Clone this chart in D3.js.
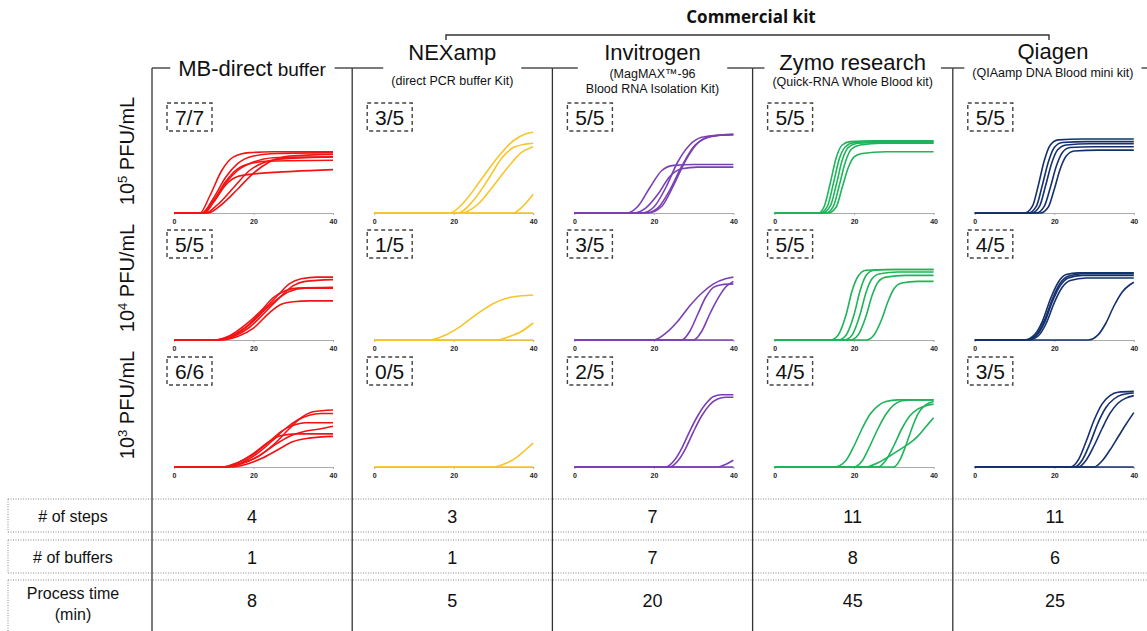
<!DOCTYPE html>
<html>
<head>
<meta charset="utf-8">
<script src="https://cdn.jsdelivr.net/npm/d3@7"></script>
<style>
  html, body { margin: 0; padding: 0; background: #fff; }
  svg { display: block; }
  text { font-family: "Liberation Sans", Arial, sans-serif; fill: #111; }
</style>
</head>
<body>
<svg id="chart" width="1147" height="631"></svg>
<script>
// ---------------- data ----------------
const kits = ["MB-direct buffer", "NEXamp", "Invitrogen", "Zymo research", "Qiagen"];
const subtitles = [[], ["(direct PCR buffer Kit)"], ["(MagMAX™-96", "Blood RNA Isolation Kit)"], ["(Quick-RNA Whole Blood kit)"], ["(QIAamp DNA Blood mini kit)"]];
const kitColors = ["#f21414", "#f7c52b", "#7b3fb5", "#1db45a", "#15306e"];
const concentrationExp = ["5", "4", "3"];
const detection = [
  ["7/7", "3/5", "5/5", "5/5", "5/5"],
  ["5/5", "1/5", "3/5", "5/5", "4/5"],
  ["6/6", "0/5", "2/5", "4/5", "3/5"]
];
const xTicks = [0, 20, 40];
const tableLabels = [["# of steps"], ["# of buffers"], ["Process time", "(min)"]];
const steps = [4, 3, 7, 11, 11];
const buffers = [1, 1, 7, 8, 6];
const processTime = [8, 5, 20, 45, 25];

// amplification curves: [cycle, normalized fluorescence]
const mbCurves = [
  [
    [[0,0],[6.5,0],[9,0.2],[12,0.5],[15,0.66],[19,0.71],[25,0.72],[40,0.72]],
    [[0,0],[7,0],[10,0.18],[13,0.42],[16,0.58],[20,0.67],[26,0.7],[40,0.71]],
    [[0,0],[7,0],[10,0.15],[13,0.37],[16,0.52],[19,0.58],[24,0.61],[40,0.62]],
    [[0,0],[7.5,0],[10,0.13],[13,0.33],[16,0.43],[20,0.46],[30,0.49],[40,0.51]],
    [[0,0],[8,0],[11,0.1],[15,0.3],[19,0.5],[23,0.6],[28,0.64],[40,0.66]],
    [[0,0],[8.5,0],[12,0.1],[16,0.28],[20,0.47],[24,0.6],[29,0.67],[40,0.69]],
    [[0,0],[7.5,0],[10,0.14],[13,0.35],[16,0.5],[20,0.6],[25,0.65],[40,0.66]]
  ],
  [
    [[0,0],[10,0],[14,0.04],[18,0.15],[22,0.33],[26,0.52],[29,0.66],[32,0.72],[36,0.74],[40,0.74]],
    [[0,0],[11,0],[15,0.04],[19,0.15],[23,0.33],[27,0.52],[30,0.64],[33,0.69],[40,0.71]],
    [[0,0],[10,0],[14,0.05],[18,0.18],[22,0.35],[25,0.5],[28,0.58],[31,0.61],[40,0.62]],
    [[0,0],[11,0],[15,0.05],[19,0.18],[23,0.36],[26,0.48],[29,0.57],[33,0.61],[40,0.61]],
    [[0,0],[12,0],[16,0.04],[20,0.14],[24,0.32],[27,0.42],[30,0.45],[34,0.46],[40,0.46]]
  ],
  [
    [[0,0],[13,0],[17,0.04],[21,0.12],[25,0.26],[29,0.45],[32,0.58],[35,0.65],[40,0.67]],
    [[0,0],[13,0],[17,0.05],[21,0.16],[25,0.32],[28,0.45],[31,0.55],[34,0.61],[37,0.63],[40,0.63]],
    [[0,0],[12,0],[16,0.05],[20,0.15],[24,0.3],[27,0.42],[30,0.49],[33,0.52],[40,0.52]],
    [[0,0],[13,0],[17,0.04],[21,0.12],[25,0.25],[29,0.36],[33,0.42],[37,0.45],[40,0.48]],
    [[0,0],[12,0],[16,0.05],[20,0.16],[24,0.3],[27,0.37],[31,0.39],[40,0.39]],
    [[0,0],[14,0],[18,0.03],[22,0.1],[26,0.2],[30,0.3],[34,0.34],[40,0.36]]
  ]
];
const nexCurves = [
  [
    [[0,0],[19,0],[23,0.15],[27,0.4],[31,0.65],[35,0.85],[38,0.93],[40,0.95]],
    [[0,0],[21,0],[25,0.15],[29,0.42],[32,0.64],[35,0.77],[38,0.81],[40,0.82]],
    [[0,0],[22,0],[26,0.1],[30,0.32],[34,0.56],[37,0.71],[40,0.78]],
    [[0,0],[35,0],[37,0.06],[40,0.22]],
    [[0,0],[40,0]]
  ],
  [
    [[0,0],[14,0],[18,0.06],[22,0.17],[26,0.31],[30,0.43],[34,0.5],[37,0.52],[40,0.53]],
    [[0,0],[31,0],[34,0.04],[37,0.1],[40,0.2]],
    [[0,0],[40,0]]
  ],
  [
    [[0,0],[30,0],[33,0.04],[36,0.12],[38,0.2],[40,0.28]],
    [[0,0],[40,0]]
  ]
];
const invCurves = [
  [
    [[0,0],[13,0],[16,0.08],[19,0.3],[22,0.5],[25,0.56],[30,0.57],[40,0.57]],
    [[0,0],[15,0],[18,0.06],[21,0.22],[24,0.43],[27,0.52],[31,0.54],[40,0.54]],
    [[0,0],[17,0],[20,0.07],[23,0.3],[26,0.6],[29,0.8],[32,0.89],[35,0.91],[40,0.92]],
    [[0,0],[18,0],[21,0.06],[24,0.27],[27,0.55],[30,0.78],[33,0.88],[36,0.91],[40,0.92]],
    [[0,0],[18.5,0],[22,0.08],[25,0.33],[28,0.62],[31,0.82],[34,0.9],[40,0.93]]
  ],
  [
    [[0,0],[20,0],[23,0.08],[26,0.22],[29,0.4],[32,0.55],[35,0.66],[38,0.72],[40,0.74]],
    [[0,0],[27,0],[29,0.1],[31,0.3],[33,0.5],[35,0.62],[37,0.65],[40,0.66]],
    [[0,0],[30,0],[32,0.1],[34,0.3],[36,0.48],[38,0.62],[40,0.69]],
    [[0,0],[40,0]]
  ],
  [
    [[0,0],[23,0],[25,0.07],[27,0.22],[29,0.42],[31,0.6],[33,0.74],[35,0.83],[37,0.85],[40,0.85]],
    [[0,0],[24,0],[26,0.07],[28,0.22],[30,0.42],[32,0.6],[34,0.73],[36,0.8],[38,0.82],[40,0.82]],
    [[0,0],[36,0],[38,0.03],[40,0.08]],
    [[0,0],[40,0]]
  ]
];
const zymoCurves = [
  [
    [[0,0],[11,0],[12.5,0.08],[14,0.35],[15.5,0.65],[17,0.8],[19,0.84],[25,0.85],[40,0.85]],
    [[0,0],[11.5,0],[13.3,0.08],[14.8,0.35],[16.3,0.64],[17.8,0.78],[20,0.83],[26,0.84],[40,0.84]],
    [[0,0],[12,0],[14,0.08],[15.5,0.33],[17,0.62],[18.5,0.77],[21,0.82],[27,0.83],[40,0.83]],
    [[0,0],[13,0],[14.8,0.08],[16.3,0.33],[17.8,0.6],[19.3,0.75],[21.5,0.8],[27,0.82],[40,0.82]],
    [[0,0],[13.5,0],[15.5,0.07],[17,0.3],[18.5,0.53],[20,0.66],[22,0.7],[28,0.72],[40,0.72]]
  ],
  [
    [[0,0],[14,0],[16,0.06],[18,0.3],[19.5,0.58],[21,0.75],[23,0.82],[28,0.83],[40,0.83]],
    [[0,0],[16,0],[18,0.06],[20,0.3],[21.5,0.58],[23,0.76],[25,0.82],[30,0.83],[40,0.83]],
    [[0,0],[17.5,0],[19.5,0.06],[21.5,0.3],[23,0.56],[24.5,0.72],[26.5,0.78],[31,0.8],[40,0.8]],
    [[0,0],[19,0],[21,0.06],[23,0.28],[24.5,0.52],[26,0.68],[28,0.74],[33,0.76],[40,0.76]],
    [[0,0],[23,0],[25,0.06],[27,0.25],[28.5,0.45],[30,0.6],[32,0.67],[36,0.69],[40,0.69]]
  ],
  [
    [[0,0],[15,0],[18,0.08],[20,0.25],[22,0.45],[24,0.62],[26,0.72],[28,0.77],[31,0.79],[40,0.79]],
    [[0,0],[20,0],[22,0.07],[24,0.25],[26,0.45],[28,0.62],[30,0.73],[32,0.78],[35,0.79],[40,0.79]],
    [[0,0],[26,0],[28,0.08],[30,0.25],[32,0.45],[34,0.6],[36,0.68],[38,0.72],[40,0.74]],
    [[0,0],[30,0],[31.5,0.08],[33,0.25],[34.5,0.45],[36,0.62],[38,0.73],[40,0.77]],
    [[0,0],[23,0],[26,0.05],[29,0.13],[32,0.22],[34,0.28],[36,0.36],[38,0.47],[40,0.58]]
  ]
];
const qiaCurves = [
  [
    [[0,0],[12.5,0],[14.5,0.08],[16,0.33],[17.5,0.62],[19,0.8],[21,0.86],[27,0.87],[40,0.87]],
    [[0,0],[13.5,0],[15.5,0.08],[17,0.33],[18.5,0.6],[20,0.77],[22,0.83],[28,0.84],[40,0.84]],
    [[0,0],[14.3,0],[16.3,0.08],[17.8,0.32],[19.3,0.58],[20.8,0.74],[23,0.8],[29,0.815],[40,0.815]],
    [[0,0],[15.5,0],[17.5,0.08],[19,0.3],[20.5,0.55],[22,0.71],[24,0.77],[30,0.78],[40,0.78]],
    [[0,0],[16.5,0],[18.5,0.07],[20,0.28],[21.5,0.52],[23,0.67],[25,0.73],[31,0.74],[40,0.74]]
  ],
  [
    [[0,0],[12.5,0],[15,0.06],[17,0.22],[19,0.48],[21,0.68],[23,0.77],[26,0.79],[40,0.79]],
    [[0,0],[13,0],[15.5,0.06],[17.5,0.23],[19.5,0.48],[21.5,0.67],[23.5,0.75],[27,0.78],[40,0.78]],
    [[0,0],[13,0],[15.5,0.05],[17.5,0.2],[19.5,0.45],[21.5,0.64],[23.5,0.73],[27,0.76],[40,0.76]],
    [[0,0],[13.5,0],[16,0.05],[18,0.2],[20,0.44],[22,0.62],[24,0.7],[28,0.73],[40,0.73]],
    [[0,0],[28.5,0],[31,0.06],[33,0.2],[35,0.4],[37,0.56],[39,0.65],[40,0.68]]
  ],
  [
    [[0,0],[24,0],[26,0.08],[28,0.3],[30,0.55],[32,0.74],[34,0.84],[36,0.88],[40,0.89]],
    [[0,0],[25,0],[27,0.08],[29,0.28],[31,0.52],[33,0.7],[35,0.8],[37,0.85],[40,0.87]],
    [[0,0],[26,0],[28,0.08],[30,0.25],[32,0.45],[34,0.63],[36,0.75],[38,0.81],[40,0.84]],
    [[0,0],[30,0],[32,0.07],[34,0.2],[36,0.35],[38,0.5],[40,0.64]],
    [[0,0],[40,0]]
  ]
];
const allCurves = [mbCurves, nexCurves, invCurves, zymoCurves, qiaCurves];

// ---------------- layout ----------------
const W = 1147, H = 631;
const svg = d3.select("#chart");
svg.append("rect").attr("width", W).attr("height", H).attr("fill", "#fff");

const col = d3.scaleBand().domain(d3.range(kits.length)).range([152, 1153]).paddingInner(0).paddingOuter(0);
const rowTop = d3.scaleLinear().domain([0, 1]).range([103, 230]);
const headerY = 68;
const lineColor = "#333";

// Commercial kit bracket
svg.append("text").attr("x", 751).attr("y", 23).attr("text-anchor", "middle")
  .attr("font-size", 17).attr("font-weight", "bold").style("font-family", "'Open Sans', Lato, sans-serif")
  .text("Commercial kit");
svg.append("path").attr("d", "M446,40 V35 H1049 V40").attr("fill", "none")
  .attr("stroke", lineColor).attr("stroke-width", 1.4);

// Column titles
const titleBase = [76, 60, 60, 70, 59];
const subBase = [0, 85, 78, 86, 77];
kits.forEach((k, i) => {
  const cx = col(i) + col.bandwidth() / 2;
  const g = svg.append("g");
  if (i === 0) {
    const t = g.append("text").attr("x", cx).attr("y", titleBase[i]).attr("text-anchor", "middle");
    t.append("tspan").attr("font-size", 22).text("MB-direct");
    t.append("tspan").attr("font-size", 19).text(" buffer");
  } else {
    g.append("text").attr("x", cx).attr("y", titleBase[i]).attr("text-anchor", "middle")
      .attr("font-size", 22).text(k);
  }
  subtitles[i].forEach((s, j) => {
    g.append("text").attr("x", cx).attr("y", subBase[i] + j * 15).attr("text-anchor", "middle")
      .attr("font-size", 12.5).text(s);
  });
  const bb = g.node().getBBox();
  const left = col(i);
  const right = i === kits.length - 1 ? W : col(i) + col.bandwidth();
  const pad = 8;
  svg.append("line").attr("x1", left).attr("x2", bb.x - pad).attr("y1", headerY).attr("y2", headerY)
    .attr("stroke", lineColor).attr("stroke-width", 1.3);
  svg.append("line").attr("x1", bb.x + bb.width + pad).attr("x2", right).attr("y1", headerY).attr("y2", headerY)
    .attr("stroke", lineColor).attr("stroke-width", 1.3);
  svg.append("line").attr("x1", left).attr("x2", left).attr("y1", headerY).attr("y2", H)
    .attr("stroke", lineColor).attr("stroke-width", 1.3);
});

// Row labels (concentrations)
concentrationExp.forEach((e, r) => {
  const cy = rowTop(r) + 48;
  const t = svg.append("text").attr("transform", `translate(134,${cy}) rotate(-90)`)
    .attr("text-anchor", "middle").attr("font-size", 20);
  t.append("tspan").text("10");
  t.append("tspan").attr("font-size", 13).attr("dy", -7).text(e);
  t.append("tspan").attr("dy", 7).text(" PFU/mL");
});

// Panels
const line = d3.line().curve(d3.curveMonotoneX);
kits.forEach((k, i) => {
  const x = d3.scaleLinear().domain([0, 40]).range([col(i) + 22, col(i) + 181]);
  [0, 1, 2].forEach(r => {
    const top = rowTop(r);
    const base = top + 110;
    const y = d3.scaleLinear().domain([0, 1]).range([base, base - 85]);
    const g = svg.append("g");
    // dashed box with detection ratio
    g.append("rect").attr("x", col(i) + 15).attr("y", top).attr("width", 45).attr("height", 28)
      .attr("fill", "none").attr("stroke", "#444").attr("stroke-width", 1.4).attr("stroke-dasharray", "4,3");
    g.append("text").attr("x", col(i) + 37.5).attr("y", top + 22).attr("text-anchor", "middle")
      .attr("font-size", 21).text(detection[r][i]);
    // axis
    const ax = g.append("g").attr("transform", `translate(0,${base})`)
      .call(d3.axisBottom(x).tickValues(xTicks).tickSize(2).tickSizeOuter(0).tickPadding(4));
    ax.select(".domain").attr("stroke", "#aaa").attr("stroke-width", 1.2);
    ax.selectAll(".tick line").attr("stroke", "#aaa");
    ax.selectAll(".tick text").attr("font-size", 7).attr("font-weight", "bold")
      .style("font-family", "'Liberation Sans', Arial, sans-serif").style("fill", "#222");
    // curves
    line.x(d => x(d[0])).y(d => y(d[1]));
    g.selectAll("path.curve").data(allCurves[i][r]).enter().append("path")
      .attr("class", "curve").attr("d", line).attr("fill", "none")
      .attr("stroke", kitColors[i]).attr("stroke-width", 1.6);
  });
});

// Table
const rowsY = [[499, 532], [540, 573], [580, 650]];
const tableVals = [steps, buffers, processTime];
rowsY.forEach(([y0, y1], r) => {
  const dotted = { stroke: "#888", "stroke-width": 1, "stroke-dasharray": "1,1.5" };
  const l1 = svg.append("line").attr("x1", 8).attr("x2", W).attr("y1", y0).attr("y2", y0);
  const l2 = svg.append("line").attr("x1", 8).attr("x2", W).attr("y1", y1).attr("y2", y1);
  const l3 = svg.append("line").attr("x1", 8).attr("x2", 8).attr("y1", y0).attr("y2", y1);
  [l1, l2, l3].forEach(l => Object.entries(dotted).forEach(([a, v]) => l.attr(a, v)));
  const cy = r === 2 ? 606 : (y0 + y1) / 2 + 6;
  const lbl = tableLabels[r];
  lbl.forEach((s, j) => {
    const ly = lbl.length === 1 ? cy : 599 + j * 21;
    svg.append("text").attr("x", 73).attr("y", ly).attr("text-anchor", "middle")
      .attr("font-size", 16).text(s);
  });
  tableVals[r].forEach((v, i) => {
    svg.append("text").attr("x", col(i) + col.bandwidth() / 2 + (i === 4 ? 2 : 0)).attr("y", cy + 1)
      .attr("text-anchor", "middle").attr("font-size", 18).text(v);
  });
});
</script>
</body>
</html>
